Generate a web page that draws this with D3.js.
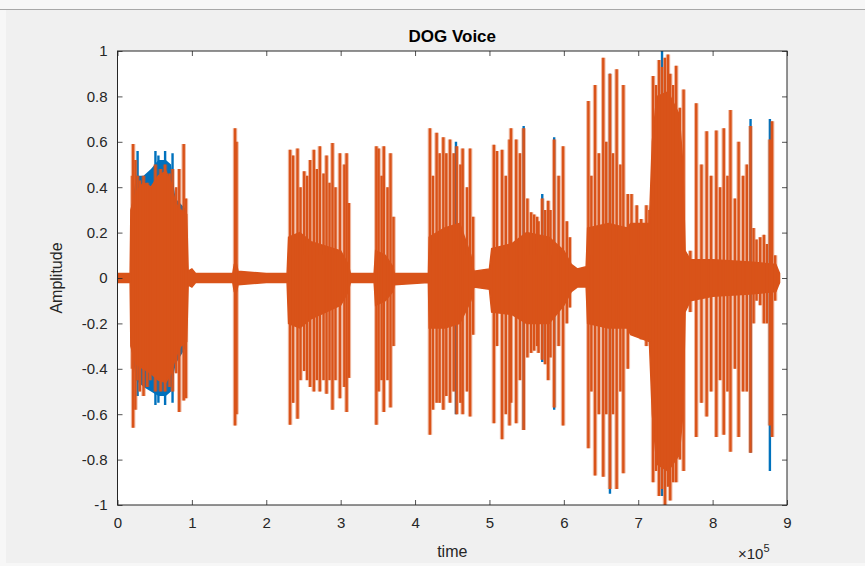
<!DOCTYPE html>
<html>
<head>
<meta charset="utf-8">
<script src="https://cdn.jsdelivr.net/npm/d3@7"></script>
<style>
  html, body { margin: 0; padding: 0; background: #f7f7f7; }
  svg { display: block; font-family: "Liberation Sans", Arial, sans-serif; }
</style>
</head>
<body>
<svg id="chart"></svg>
<script>
// x values are in units of 10^5 samples
const xTicks = [0, 1, 2, 3, 4, 5, 6, 7, 8, 9];
const yTicks = [-1, -0.8, -0.6, -0.4, -0.2, 0, 0.2, 0.4, 0.6, 0.8, 1];

// dense core of the orange channel (envelope)
const coreTime   = [0, 0.17, 0.18, 0.25, 0.35, 0.45, 0.55, 0.65, 0.72, 0.78, 0.85, 0.93, 0.95, 1.0, 1.05, 1.55, 1.57, 1.6, 1.62, 2.0, 2.28, 2.3, 2.45, 2.6, 2.8, 3.0, 3.1, 3.13, 3.45, 3.47, 3.6, 3.7, 3.72, 4.18, 4.19, 4.4, 4.6, 4.75, 4.79, 5.0, 5.03, 5.3, 5.5, 5.8, 6.0, 6.1, 6.18, 6.3, 6.32, 6.6, 6.85, 6.9, 7.15, 7.19, 7.25, 7.4, 7.55, 7.6, 7.63, 7.7, 8.0, 8.5, 8.85, 8.9];
const coreTop    = [0.02, 0.02, 0.30, 0.38, 0.42, 0.40, 0.45, 0.47, 0.42, 0.33, 0.30, 0.28, 0.03, 0.04, 0.02, 0.02, 0.06, 0.06, 0.03, 0.02, 0.02, 0.18, 0.20, 0.16, 0.14, 0.12, 0.06, 0.02, 0.02, 0.12, 0.10, 0.05, 0.02, 0.02, 0.18, 0.22, 0.24, 0.10, 0.03, 0.04, 0.13, 0.15, 0.20, 0.18, 0.12, 0.06, 0.04, 0.05, 0.22, 0.24, 0.22, 0.24, 0.24, 0.60, 0.80, 0.82, 0.72, 0.50, 0.12, 0.08, 0.08, 0.07, 0.06, 0.02];
const coreBottom = [-0.02, -0.02, -0.30, -0.38, -0.40, -0.42, -0.45, -0.46, -0.42, -0.35, -0.30, -0.28, -0.03, -0.04, -0.02, -0.02, -0.06, -0.06, -0.03, -0.02, -0.02, -0.20, -0.22, -0.18, -0.15, -0.12, -0.06, -0.02, -0.02, -0.12, -0.10, -0.06, -0.03, -0.02, -0.22, -0.22, -0.20, -0.10, -0.04, -0.05, -0.15, -0.16, -0.20, -0.20, -0.12, -0.06, -0.04, -0.04, -0.20, -0.22, -0.22, -0.25, -0.28, -0.60, -0.82, -0.85, -0.78, -0.60, -0.15, -0.10, -0.08, -0.07, -0.06, -0.02];

// orange peaks: time, positive peak, negative peak
const spikeTime = [
  0.20, 0.21, 0.24, 0.27, 0.30, 0.35, 0.40, 0.44, 0.51, 0.58, 0.64, 0.70, 0.74, 0.79, 0.83, 0.89, 0.92,
  1.58, 1.60,
  2.32, 2.36, 2.42, 2.46, 2.51, 2.55, 2.59, 2.64, 2.68, 2.72, 2.77, 2.81, 2.85, 2.89, 2.93, 2.99, 3.05, 3.08, 3.11,
  3.48, 3.51, 3.55, 3.58, 3.63, 3.67, 3.71,
  4.20, 4.24, 4.29, 4.33, 4.38, 4.42, 4.47, 4.52, 4.56, 4.61, 4.64, 4.70, 4.74, 4.78,
  5.06, 5.10, 5.17, 5.22, 5.27, 5.29, 5.36, 5.41, 5.46, 5.51, 5.56, 5.60, 5.64, 5.66, 5.71, 5.75, 5.79, 5.82, 5.87, 5.93, 5.99, 6.04, 6.08,
  6.33, 6.37, 6.42, 6.47, 6.53, 6.57, 6.62, 6.66, 6.71, 6.76, 6.80, 6.86, 6.91, 6.98, 7.04, 7.11, 7.15,
  7.20, 7.24, 7.28, 7.32, 7.36, 7.40, 7.43, 7.47, 7.51, 7.56, 7.61,
  7.70, 7.78, 7.85, 7.92, 7.98, 8.05, 8.10, 8.15, 8.20, 8.24, 8.30, 8.35, 8.41, 8.46, 8.51, 8.55, 8.59, 8.64, 8.69, 8.73, 8.77, 8.80, 8.84
];
const spikeTop = [
  0.45, 0.59, 0.52, 0.45, 0.43, 0.45, 0.42, 0.40, 0.50, 0.48, 0.50, 0.46, 0.48, 0.40, 0.48, 0.59, 0.35,
  0.66, 0.60,
  0.565, 0.54, 0.57, 0.40, 0.47, 0.45, 0.52, 0.565, 0.48, 0.58, 0.46, 0.54, 0.42, 0.595, 0.40, 0.55, 0.50, 0.55, 0.33,
  0.58, 0.57, 0.45, 0.58, 0.40, 0.55, 0.27,
  0.66, 0.45, 0.64, 0.55, 0.62, 0.55, 0.61, 0.55, 0.58, 0.50, 0.57, 0.40, 0.57, 0.27,
  0.587, 0.56, 0.565, 0.45, 0.61, 0.66, 0.61, 0.55, 0.66, 0.35, 0.29, 0.28, 0.27, 0.25, 0.35, 0.30, 0.34, 0.30, 0.61, 0.45, 0.58, 0.25, 0.18,
  0.78, 0.45, 0.85, 0.55, 0.97, 0.60, 0.90, 0.55, 0.92, 0.50, 0.85, 0.37, 0.37, 0.32, 0.26, 0.32, 0.30,
  0.89, 0.85, 0.96, 0.93, 0.97, 0.985, 0.90, 0.85, 0.935, 0.75, 0.83,
  0.12, 0.77, 0.50, 0.646, 0.45, 0.65, 0.40, 0.66, 0.45, 0.74, 0.35, 0.60, 0.45, 0.50, 0.67, 0.22, 0.17, 0.18, 0.19, 0.15, 0.61, 0.69, 0.10
];
const spikeBottom = [
  -0.40, -0.66, -0.58, -0.45, -0.50, -0.52, -0.48, -0.45, -0.50, -0.50, -0.50, -0.48, -0.50, -0.42, -0.59, -0.54, -0.53,
  -0.65, -0.60,
  -0.646, -0.55, -0.62, -0.45, -0.41, -0.45, -0.48, -0.50, -0.45, -0.50, -0.45, -0.51, -0.45, -0.58, -0.45, -0.53, -0.48, -0.59, -0.44,
  -0.646, -0.50, -0.45, -0.59, -0.45, -0.57, -0.30,
  -0.69, -0.58, -0.55, -0.55, -0.58, -0.52, -0.55, -0.50, -0.60, -0.55, -0.60, -0.50, -0.61, -0.25,
  -0.64, -0.30, -0.71, -0.60, -0.65, -0.55, -0.64, -0.45, -0.67, -0.35, -0.33, -0.32, -0.30, -0.33, -0.36, -0.38, -0.45, -0.35, -0.57, -0.30, -0.65, -0.20, -0.13,
  -0.75, -0.50, -0.87, -0.60, -0.875, -0.60, -0.93, -0.60, -0.93, -0.50, -0.86, -0.40, -0.23, -0.24, -0.27, -0.30, -0.27,
  -0.90, -0.85, -0.96, -0.93, -1.0, -0.92, -0.98, -0.90, -0.90, -0.80, -0.85,
  -0.15, -0.70, -0.55, -0.61, -0.50, -0.70, -0.45, -0.69, -0.50, -0.765, -0.40, -0.70, -0.50, -0.50, -0.77, -0.20, -0.10, -0.12, -0.20, -0.20, -0.65, -0.70, -0.10
];

// blue channel: where it shows past the orange one
const blueCoreTime   = [0.18, 0.25, 0.35, 0.45, 0.55, 0.65, 0.72, 0.78, 0.93];
const blueCoreTop    = [0.30, 0.45, 0.45, 0.48, 0.52, 0.52, 0.50, 0.35, 0.30];
const blueCoreBottom = [-0.30, -0.45, -0.48, -0.50, -0.52, -0.52, -0.50, -0.38, -0.30];
const blueSpikeTime   = [0.27, 0.51, 0.55, 0.64, 0.74, 4.55, 5.46, 5.71, 5.87, 6.62, 7.32, 8.51, 8.77];
const blueSpikeTop    = [0.56, 0.56, 0.54, 0.56, 0.55, 0.60, 0.67, 0.37, 0.62, 0.90, 1.0, 0.70, 0.70];
const blueSpikeBottom = [-0.52, -0.56, -0.55, -0.56, -0.55, -0.60, -0.67, -0.37, -0.58, -0.95, -0.96, -0.77, -0.85];

const W = 865, H = 566;
const plotL = 117.5, plotR = 787, plotT = 51, plotB = 505;
const blue = "#0072BD", orange = "#D95319", ink = "#262626";

const svg = d3.select("#chart").attr("width", W).attr("height", H);

// figure background
svg.append("rect").attr("x", 6).attr("y", 10).attr("width", W - 6).attr("height", 553).attr("fill", "#f0f0f0");
svg.append("line").attr("x1", 0).attr("x2", W).attr("y1", 9.5).attr("y2", 9.5).attr("stroke", "#a8a8a8");

const x = d3.scaleLinear().domain([0, 9]).range([plotL, plotR]);
const y = d3.scaleLinear().domain([-1, 1]).range([plotB, plotT]);

svg.append("rect").attr("x", plotL).attr("y", plotT).attr("width", plotR - plotL).attr("height", plotB - plotT).attr("fill", "#fff");

svg.append("clipPath").attr("id", "clip")
  .append("rect").attr("x", plotL).attr("y", plotT).attr("width", plotR - plotL).attr("height", plotB - plotT);

const plot = svg.append("g").attr("clip-path", "url(#clip)");

const area = d3.area().x(d => x(d.t)).y0(d => y(d.lo)).y1(d => y(d.hi));

function zip(ts, hi, lo) {
  return ts.map((t, i) => ({ t: t, hi: hi[i], lo: lo[i] }));
}

function drawSpikes(g, data, color, width) {
  g.selectAll(null).data(data).enter().append("line")
    .attr("x1", d => x(d.t)).attr("x2", d => x(d.t))
    .attr("y1", d => y(d.hi)).attr("y2", d => y(d.lo))
    .attr("stroke", color).attr("stroke-width", width);
}

// blue channel first, orange on top
const blueCore = zip(blueCoreTime, blueCoreTop, blueCoreBottom);
const blueSpikes = zip(blueSpikeTime, blueSpikeTop, blueSpikeBottom);
plot.append("path").datum(blueCore).attr("d", area).attr("fill", blue);
drawSpikes(plot.append("g"), blueSpikes, blue, 2.4);

const core = zip(coreTime, coreTop, coreBottom);
const spikes = zip(spikeTime, spikeTop, spikeBottom);
drawSpikes(plot.append("g").attr("opacity", 0.4), spikes, orange, 4.5);
plot.append("path").datum(core).attr("d", area).attr("fill", orange)
  .attr("stroke", orange).attr("stroke-width", 1.5);
drawSpikes(plot.append("g"), spikes, orange, 2.4);

// axes, MATLAB style: ticks inside on all four sides
const fmt = d => String(d);
const axes = [
  d3.axisBottom(x).tickValues(xTicks).tickFormat(fmt).tickSizeInner(-5).tickSizeOuter(0).tickPadding(12),
  d3.axisTop(x).tickValues(xTicks).tickFormat("").tickSizeInner(-5).tickSizeOuter(0),
  d3.axisLeft(y).tickValues(yTicks).tickFormat(fmt).tickSizeInner(-5).tickSizeOuter(0).tickPadding(10),
  d3.axisRight(y).tickValues(yTicks).tickFormat("").tickSizeInner(-5).tickSizeOuter(0)
];
const pos = [
  `translate(0,${plotB})`, `translate(0,${plotT})`,
  `translate(${plotL},0)`, `translate(${plotR},0)`
];
axes.forEach((ax, i) => {
  const g = svg.append("g").attr("transform", pos[i]).call(ax);
  g.select(".domain").remove();
  g.selectAll("line").attr("stroke", ink).attr("stroke-width", 0.8);
  g.selectAll("text").attr("fill", ink).attr("font-size", 15)
    .attr("font-family", "Liberation Sans, Arial, sans-serif");
});

svg.append("rect").attr("x", plotL).attr("y", plotT).attr("width", plotR - plotL).attr("height", plotB - plotT)
  .attr("fill", "none").attr("stroke", ink).attr("stroke-width", 1);

// labels
svg.append("text").attr("x", (plotL + plotR) / 2).attr("y", 42).attr("text-anchor", "middle")
  .attr("font-size", 17).attr("font-weight", "bold").attr("fill", "#000").text("DOG Voice");
svg.append("text").attr("x", (plotL + plotR) / 2).attr("y", 557).attr("text-anchor", "middle")
  .attr("font-size", 16).attr("fill", ink).text("time");
svg.append("text").attr("transform", `translate(62,${(plotT + plotB) / 2}) rotate(-90)`)
  .attr("text-anchor", "middle").attr("font-size", 16).attr("fill", ink).text("Amplitude");

const exp = svg.append("text").attr("x", 738).attr("y", 559).attr("font-size", 15).attr("fill", ink);
exp.append("tspan").text("\u00d710");
exp.append("tspan").attr("dy", -7).attr("font-size", 11).text("5");
</script>
</body>
</html>
